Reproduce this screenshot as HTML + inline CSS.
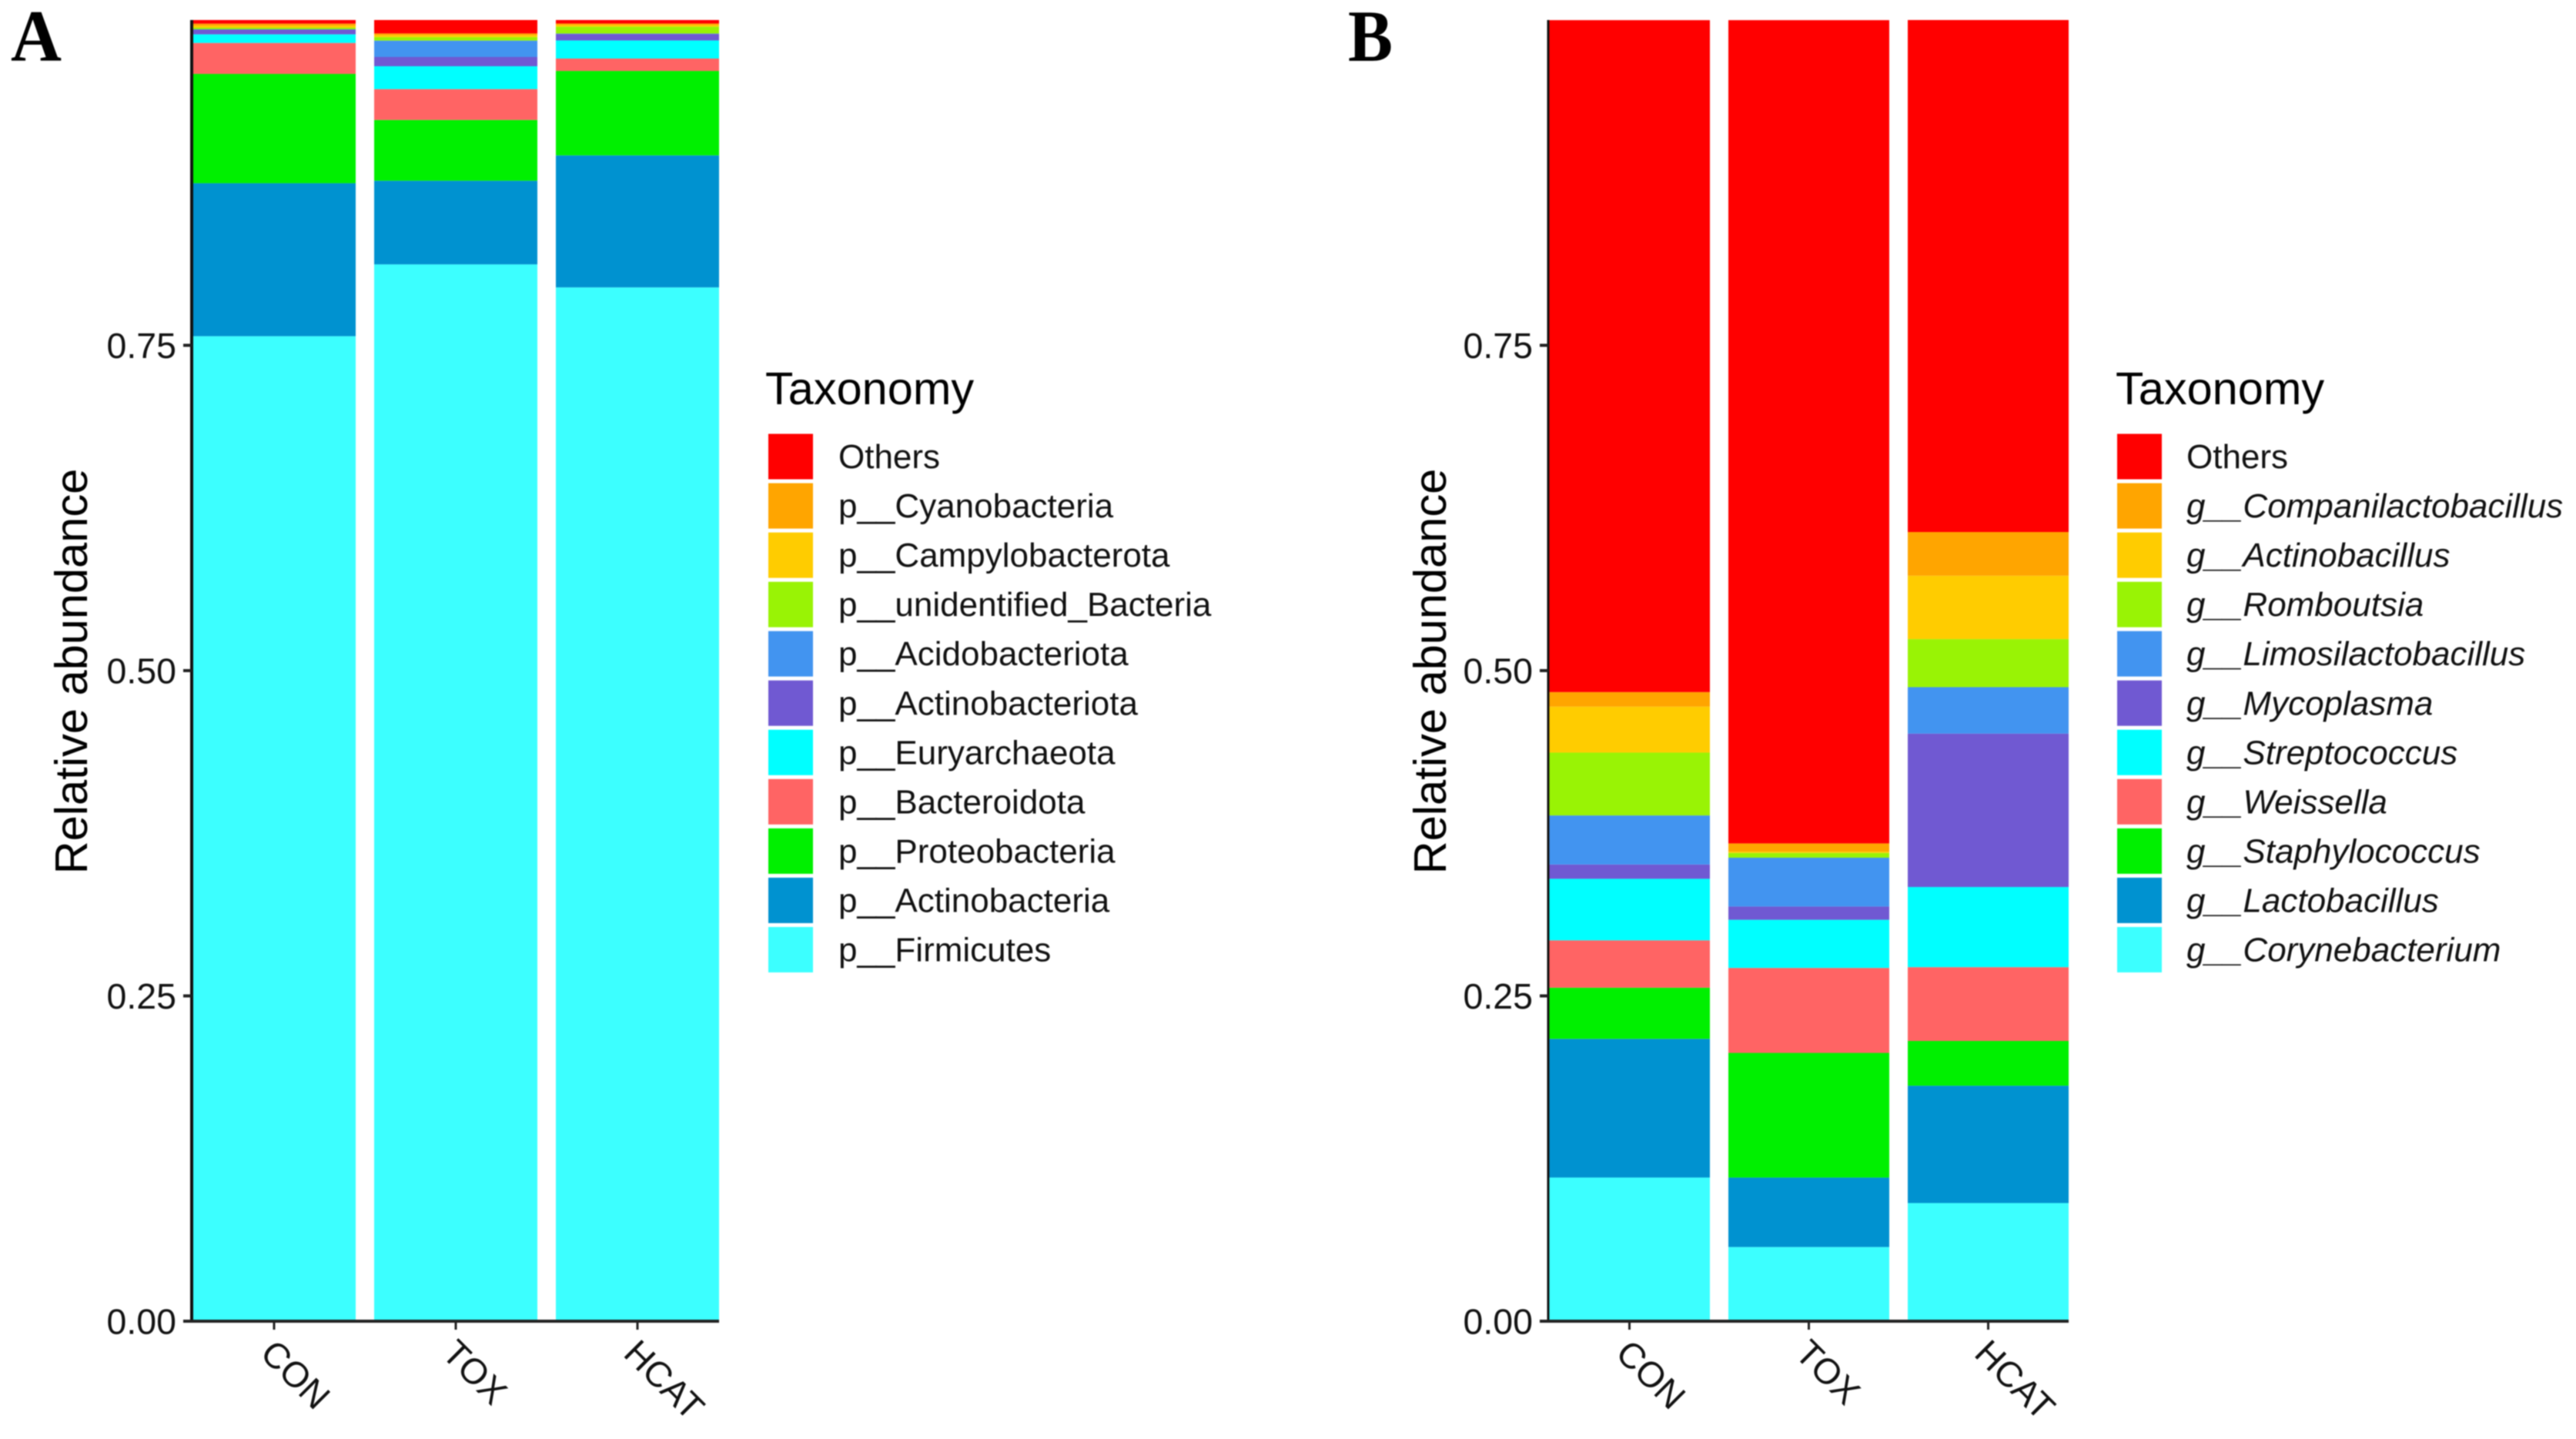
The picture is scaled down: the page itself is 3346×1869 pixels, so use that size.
<!DOCTYPE html>
<html lang="en">
<head>
<meta charset="utf-8">
<title>Relative abundance by taxonomy</title>
<style>
html,body{margin:0;padding:0;background:#fff;width:3346px;height:1869px;overflow:hidden}
svg{display:block;font-family:"Liberation Sans",sans-serif;filter:blur(0.8px)}
</style>
</head>
<body>
<svg id="figure" xmlns="http://www.w3.org/2000/svg" width="3346" height="1869" viewBox="0 0 3346 1869">
  <rect x="0" y="0" width="3346" height="1869" fill="#fff"/>
  <text x="14" y="79" font-family="'Liberation Serif',serif" font-weight="700" font-size="95" fill="#000" textLength="66" lengthAdjust="spacingAndGlyphs">A</text>
  <text x="1751" y="79" font-family="'Liberation Serif',serif" font-weight="700" font-size="95" fill="#000" textLength="58" lengthAdjust="spacingAndGlyphs">B</text>
  <g id="panel-a"></g>
  <g id="panel-b"></g>
</svg>
<script>
// Shared axis data
const categories = ['CON', 'TOX', 'HCAT'];
const yTickValues = [0, 0.25, 0.5, 0.75];
const yTickLabels = ['0.00', '0.25', '0.50', '0.75'];
const segmentColors = ['#3cffff', '#0092d0', '#00f000', '#ff6464', '#00ffff', '#7059d2', '#4294f0', '#99f305', '#ffcc00', '#ffa500', '#ff0000'];

// Panel A: phylum values, one per category (CON, TOX, HCAT), stacked bottom-up
const phylumNames = ['p__Firmicutes', 'p__Actinobacteria', 'p__Proteobacteria', 'p__Bacteroidota', 'p__Euryarchaeota', 'p__Actinobacteriota', 'p__Acidobacteriota', 'p__unidentified_Bacteria', 'p__Campylobacterota', 'p__Cyanobacteria', 'Others'];
const firmicutes = [0.7570, 0.8122, 0.7945];
const actinobacteria = [0.1176, 0.0643, 0.1015];
const proteobacteria = [0.0840, 0.0467, 0.0649];
const bacteroidota = [0.0238, 0.0237, 0.0095];
const euryarchaeota = [0.0066, 0.0176, 0.0139];
const actinobacteriota = [0.0036, 0.0071, 0.0050];
const acidobacteriota = [0.0003, 0.0126, 0.0003];
const unidentifiedBacteria = [0.0012, 0.0027, 0.0053];
const campylobacterota = [0.0015, 0.0015, 0.0013];
const cyanobacteria = [0.0016, 0.0013, 0.0011];
const phylumOthers = [0.0028, 0.0103, 0.0027];

// Panel B: genus values, one per category (CON, TOX, HCAT), stacked bottom-up
const genusNames = ['g__Corynebacterium', 'g__Lactobacillus', 'g__Staphylococcus', 'g__Weissella', 'g__Streptococcus', 'g__Mycoplasma', 'g__Limosilactobacillus', 'g__Romboutsia', 'g__Actinobacillus', 'g__Companilactobacillus', 'Others'];
const corynebacterium = [0.1104, 0.0570, 0.0908];
const lactobacillus = [0.1066, 0.0534, 0.0902];
const staphylococcus = [0.0393, 0.0958, 0.0344];
const weissella = [0.0364, 0.0653, 0.0567];
const streptococcus = [0.0473, 0.0370, 0.0616];
const mycoplasma = [0.0110, 0.0102, 0.1179];
const limosilactobacillus = [0.0377, 0.0375, 0.0357];
const romboutsia = [0.0483, 0.0037, 0.0369];
const actinobacillus = [0.0353, 0.0010, 0.0487];
const companilactobacillus = [0.0112, 0.0063, 0.0336];
const genusOthers = [0.5164, 0.6327, 0.3935];

const phylumSeries = [firmicutes, actinobacteria, proteobacteria, bacteroidota, euryarchaeota, actinobacteriota, acidobacteriota, unidentifiedBacteria, campylobacterota, cyanobacteria, phylumOthers];
const genusSeries = [corynebacterium, lactobacillus, staphylococcus, weissella, streptococcus, mycoplasma, limosilactobacillus, romboutsia, actinobacillus, companilactobacillus, genusOthers];

const NS = 'http://www.w3.org/2000/svg';
const Y0 = 1716, PX_PER_UNIT = 1690;
function yScale(v) { return Y0 - v * PX_PER_UNIT; }

function make(parent, tag, attrs, text) {
  const el = document.createElementNS(NS, tag);
  for (const k in attrs) el.setAttribute(k, attrs[k]);
  if (text !== undefined) el.textContent = text;
  parent.appendChild(el);
  return el;
}
function slug(s) {
  return s.replace(/_+/g, '-').toLowerCase();
}

function drawPanel(root, cfg, names, series) {
  const bandX = i => cfg.firstBar + i * cfg.step;

  // stacked bars
  categories.forEach((cat, c) => {
    let cum = 0;
    series.forEach((values, s) => {
      const top = yScale(cum + values[c]);
      const bottom = yScale(cum);
      const seg = make(root, 'rect', { x: bandX(c), y: top, width: cfg.barW, height: bottom - top, fill: segmentColors[s] });
      
      
      cum += values[c];
    });
  });

  // axis lines
  const yAxis = make(root, 'line', { x1: cfg.axisX, x2: cfg.axisX, y1: 26, y2: Y0 + 2, stroke: '#111', 'stroke-width': cfg.axisW });
  
  
  const xAxis = make(root, 'line', { x1: cfg.axisX - 2, x2: bandX(2) + cfg.barW, y1: Y0, y2: Y0, stroke: '#222', 'stroke-width': 4 });
  
  

  // y ticks and labels
  yTickValues.forEach((v, i) => {
    const t = make(root, 'line', { x1: cfg.axisX - 11, x2: cfg.axisX, y1: yScale(v), y2: yScale(v), stroke: '#222', 'stroke-width': 4 });
    
    
    const l = make(root, 'text', { x: cfg.axisX - 20, y: yScale(v) + 16.5, 'text-anchor': 'end', 'font-size': 46.5, fill: '#111' }, yTickLabels[i]);
    
    
  });

  // x ticks and rotated labels
  categories.forEach((cat, c) => {
    const cx = bandX(c) + cfg.barW / 2;
    const t = make(root, 'line', { x1: cx, x2: cx, y1: Y0, y2: Y0 + 11, stroke: '#222', 'stroke-width': 3 });
    
    
    const px = cx - 20, py = 1760;
    const l = make(root, 'text', { x: px, y: py, transform: 'rotate(45 ' + px + ' ' + py + ')', 'font-size': 46.5, fill: '#111' }, cat);
    
    
  });

  // y axis title
  const title = make(root, 'text', { x: 0, y: 0, transform: 'translate(' + cfg.titleX + ' 872) rotate(-90)', 'text-anchor': 'middle', 'font-size': 59.6, fill: '#000' }, 'Relative abundance');
  
  

  // legend
  const legendTitle = make(root, 'text', { x: cfg.legendTitleX, y: 525, 'font-size': 59.5, fill: '#000' }, 'Taxonomy');
  
  
  const order = names.map((_, i) => names.length - 1 - i);
  order.forEach((s, row) => {
    const top = 563.5 + row * 64.05;
    const sw = make(root, 'rect', { x: cfg.swatchX, y: top, width: 58, height: 59, fill: segmentColors[s] });
    
    
    const attrs = { x: cfg.legendTextX, y: top + 29.5 + 15, 'font-size': 44, fill: '#111' };
    if (cfg.italic && names[s] !== 'Others') attrs['font-style'] = 'italic';
    const l = make(root, 'text', attrs, names[s]);
    
    
  });
}

drawPanel(document.getElementById('panel-a'), {
  firstBar: 250, step: 236, barW: 212, axisX: 249, axisW: 4, titleX: 113,
  legendTitleX: 994, swatchX: 998, legendTextX: 1089, italic: false
}, phylumNames, phylumSeries);

drawPanel(document.getElementById('panel-b'), {
  firstBar: 2012, step: 233, barW: 209, axisX: 2011, axisW: 3, titleX: 1878,
  legendTitleX: 2748, swatchX: 2750, legendTextX: 2840, italic: true
}, genusNames, genusSeries);
</script>
</body>
</html>
